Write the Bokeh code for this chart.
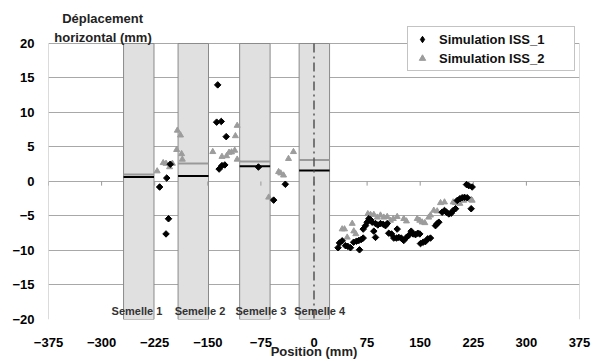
from bokeh.plotting import figure
from bokeh.models import Label, FixedTicker, Legend, LegendItem, Range1d
from bokeh.embed import file_html
from bokeh.resources import INLINE
import math

# ---- data ----
x_ticks = [-375, -300, -225, -150, -75, 0, 75, 150, 225, 300, 375]
y_ticks = [-20, -15, -10, -5, 0, 5, 10, 15, 20]

semelle_names = ["Semelle 1", "Semelle 2", "Semelle 3", "Semelle 4"]
semelle_left = [-269, -192, -105, -21]
semelle_right = [-226, -149, -62, 22]
semelle_label_x = [-250, -161, -75, 8]
iss1_mean = [0.65, 0.8, 2.2, 1.6]
iss2_mean = [1.0, 2.6, 2.9, 3.1]

iss1_x = [-218, -208, -203, -205.5, -209,
          -136, -137.5, -131, -124, -134, -130, -126,
          -78.5, -57, -40.5,
          34, 36, 39.8, 44.5, 47.7, 51.5, 56, 60, 63.3, 66.7, 69.5, 64.3,
          69.5, 72.7, 75.1, 77.4, 79.8, 82.2, 84.5, 86.9, 86.9, 90.1, 93.9,
          97.7, 101, 103.4, 105.6, 109.5, 112.7, 116.5, 119.8, 123.2, 126.8,
          130.6, 133.9, 137.3, 140.1, 143.4, 146.6, 149.4, 117.5, 150.4, 154.2,
          157.5, 160.7, 164.5, 171.6, 174, 176.3, 181, 184.3, 187.1, 190.4,
          193.8, 196.6, 199.9, 202.3, 206, 209.3, 212.6, 216.4, 222, 215.4,
          218.6, 223.4]
iss1_y = [-0.8, 0.5, 2.5, -5.4, -7.6,
          14.0, 8.6, 8.7, 6.5, 1.8, 2.3, 2.4,
          2.1, -2.7, -0.4,
          -9.6, -8.9, -8.6, -9.3, -9.4, -9.6, -8.8, -8.65, -8.55, -8.4, -8.2, -9.9,
          -6.9, -6.4, -5.9, -5.4, -5.55, -5.9, -7.2, -8.1, -6.1, -6.3, -6.1,
          -6.2, -6.4, -6.1, -7.5, -7.6, -8.2, -8.2, -8.1, -8.2, -8.55,
          -8.1, -7.8, -7.2, -7.6, -7.7, -7.5, -7.6, -6.9, -9.0, -8.8,
          -8.7, -8.3, -8.2, -6.4, -6.1, -5.9, -4.45, -4.2, -4.45, -4.7,
          -4.6, -4.2, -3.95, -2.75, -2.5, -2.35, -2.3, -2.35, -3.95, -0.45,
          -0.6, -0.8]

iss2_x = [-221.5, -213, -209, -204, -200, -193, -188.5, -194, -187, -186,
          -143, -130, -123.5, -120, -116.5, -112, -111, -108.5, -108.5,
          -64, -50, -47, -43, -36, -29,
          39.8, 43.1, 46.9, 54, 56.2, 59, 76, 79.8, 84.5, 89.3, 93.9, 98.6,
          103.4, 108, 112, 117.5, 126.8, 130.6, 145.8, 149.4, 152.8, 156.5,
          162, 164.5, 169.2, 174, 178.7, 184.3, 196.6, 199.9, 206, 211.6,
          216.4, 222, 223.4]
iss2_y = [1.5, 2.7, 2.6, 2.1, 2.6, 7.4, 6.7, 4.6, 4.0, 3.2,
          4.3, 3.6, 3.7, 4.2, 4.25, 4.5, 6.6, 8.1, 3.2,
          -2.3, 1.4, 1.2, 0.9, 3.3, 4.3,
          -6.9, -6.9, -8.1, -6.1, -7.2, -7.6, -4.7, -4.8, -4.8, -5.2, -4.9, -5.2,
          -5.1, -5.65, -5.4, -5.1, -5.4, -5.75, -5.4, -5.65, -5.9, -6.0,
          -5.2, -4.9, -4.2, -4.3, -3.1, -3.0, -3.0, -3.1, -3.2, -2.75,
          -2.5, -2.65, -2.75]

FONT = "Liberation Sans"
y_lo, y_hi = y_ticks[0], y_ticks[-1]
x_lo, x_hi = x_ticks[0], x_ticks[-1]

# frame extends above the +20 line to leave room for the axis title and legend
p = figure(width=597, height=361, output_backend="svg", toolbar_location=None,
           x_range=Range1d(x_lo, x_hi), y_range=Range1d(y_lo, 25.07),
           min_border_left=48, min_border_right=18, min_border_top=8,
           min_border_bottom=42)
p.background_fill_color = "white"
p.border_fill_color = "white"
p.outline_line_color = None

p.xgrid.grid_line_color = None
p.ygrid.grid_line_color = "#a8a8a8"
p.ygrid.grid_line_width = 1

p.xaxis.ticker = FixedTicker(ticks=x_ticks)
p.yaxis.ticker = FixedTicker(ticks=y_ticks)
for ax in (p.xaxis, p.yaxis):
    ax.axis_line_color = None
    ax.major_tick_line_color = None
    ax.minor_tick_line_color = None
    ax.major_label_text_font = FONT
    ax.major_label_text_font_style = "bold"
    ax.major_label_text_font_size = "13px"
    ax.major_label_text_color = "black"
p.xaxis.major_label_standoff = 12
p.yaxis.major_label_standoff = 8
p.xaxis.axis_label = "Position (mm)"
p.xaxis.axis_label_text_font = FONT
p.xaxis.axis_label_text_font_style = "bold"
p.xaxis.axis_label_text_font_size = "13px"
p.xaxis.axis_label_text_color = "#222222"
p.xaxis.axis_label_standoff = -6

# plot-area side edges
p.segment(x0=[x_lo, x_hi], x1=[x_lo, x_hi], y0=[y_lo, y_lo], y1=[y_hi, y_hi],
          line_color="#b8b8b8", line_width=1)

# foundation footings
p.quad(left=semelle_left, right=semelle_right, top=y_hi, bottom=y_lo,
       fill_color="#e0e0e0", line_color="#8a8a8a", line_width=1)
# mean lines
p.segment(x0=semelle_left, x1=semelle_right, y0=iss2_mean, y1=iss2_mean,
          line_color="#999999", line_width=2)
p.segment(x0=semelle_left, x1=semelle_right, y0=iss1_mean, y1=iss1_mean,
          line_color="black", line_width=2)

# small tick marks on the zero line
p.segment(x0=x_ticks, x1=x_ticks, y0=[0] * len(x_ticks), y1=[-0.6] * len(x_ticks),
          line_color="#999999", line_width=1)

# axis of symmetry (dash-dot)
p.segment(x0=[0], x1=[0], y0=[y_hi], y1=[y_lo], line_color="#555555",
          line_width=1.5, line_dash="9 4 2 4")

r2 = p.scatter(iss2_x, iss2_y, marker="triangle", size=6, color="#9c9c9c")
# legend glyph for ISS_1 (hidden underneath the first ISS_1 point)
leg1 = p.scatter(iss1_x[:1], iss1_y[:1], marker="diamond", size=6, color="black")
r1 = p.scatter(iss1_x, iss1_y, marker="square", angle=math.pi / 4, size=4.6,
               color="black")

for name, lx in zip(semelle_names, semelle_label_x):
    p.add_layout(Label(x=lx, y=-18.8, text=name, text_align="center",
                       text_baseline="middle", text_font=FONT,
                       text_font_style="bold", text_font_size="11px",
                       text_color="#333333"))

p.add_layout(Label(x=-298.5, y=23.55, text="Déplacement", text_align="center",
                   text_baseline="middle", text_font=FONT, text_font_style="bold",
                   text_font_size="13px", text_color="#222222"))
p.add_layout(Label(x=-298, y=20.8, text="horizontal (mm)", text_align="center",
                   text_baseline="middle", text_font=FONT, text_font_style="bold",
                   text_font_size="13px", text_color="#222222"))

legend = Legend(items=[LegendItem(label="Simulation ISS_1", renderers=[leg1]),
                       LegendItem(label="Simulation ISS_2", renderers=[r2])],
                location=(359, 248), padding=4, spacing=3, margin=0,
                glyph_width=20, glyph_height=16, label_height=16,
                label_width=131, label_standoff=7,
                label_text_font=FONT, label_text_font_style="bold",
                label_text_font_size="13px", label_text_color="#111111",
                border_line_color="#888888", border_line_width=1,
                background_fill_color="white", background_fill_alpha=1)
p.add_layout(legend)

open("out.html", "w").write(file_html(p, INLINE))
